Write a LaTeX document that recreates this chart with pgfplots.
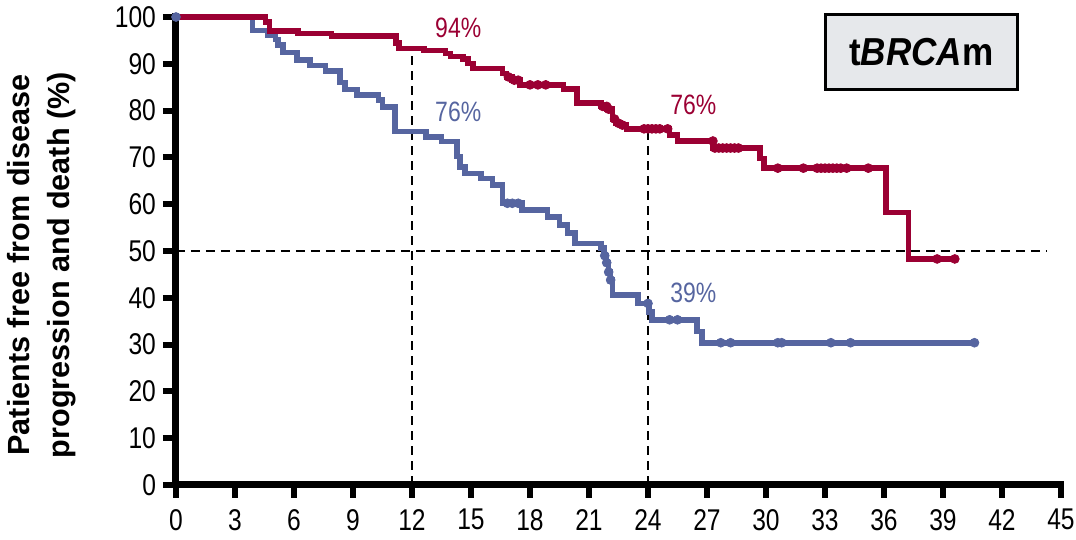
\documentclass[border=0pt]{standalone}
\usepackage{fontspec}
\setmainfont{Liberation Sans}
\newfontfamily\narrowsans{Liberation Sans}[FakeStretch=0.82]
\newfontfamily\boxsans{Liberation Sans}[FakeStretch=0.9]
\usepackage{pgfplots}
\pgfplotsset{compat=1.18}

\definecolor{olared}{RGB}{155,0,51}
\definecolor{pboblue}{RGB}{86,101,160}
\definecolor{boxgray}{RGB}{230,232,235}

\begin{document}
\begin{tikzpicture}
\begin{axis}[
  scale only axis, width=442.5pt, height=234pt,
  xmin=0, xmax=45, ymin=0, ymax=100,
  axis lines=left,
  axis line style={draw=none},
  xtick={0,3,...,45}, ytick={0,10,...,100},
  tick align=outside,
  major tick length=6.5pt,
  tick style={line width=3pt, black},
  major tick style={line width=3pt, black},
  /pgf/number format/assume math mode=true,
  tick label style={font=\narrowsans\fontsize{15}{18}\selectfont},
  xticklabel style={yshift=-2pt},
  ylabel={Patients free from disease\\progression and death (\%)},
  ylabel style={font=\bfseries\fontsize{15.3}{20}\selectfont, align=center,
                at={(axis description cs:-0.152,0.47)}, anchor=center},
  clip=false,
]
\coordinate (O) at (axis cs:0,0);
% axis frame: left and bottom only
\draw[line width=3.5pt, line cap=rect] (axis cs:0,100) -- (axis cs:0,0) -- (axis cs:45,0);

% reference lines: median and landmark times
\addplot[black, line width=1.4pt, dash pattern=on 4.5pt off 3pt] coordinates {(0,50) (44.3,50)};
\addplot[black, line width=1.4pt, dash pattern=on 4.5pt off 3pt] coordinates {(12,0) (12,93.3)};
\addplot[black, line width=1.4pt, dash pattern=on 4.5pt off 3pt] coordinates {(24,0) (24,76.1)};

% placebo arm
\addplot[pboblue, line width=2.8pt, const plot] coordinates {
(0,100) (3.9,97.1) (4.65,96.2) (5.05,95.2) (5.2,94.0) (5.45,92.4) (6.15,90.8)
(6.8,89.6) (7.6,88.5) (8.35,86.0) (8.6,84.5) (9.2,83.3) (10.3,82.3) (10.5,80.8)
(11.15,75.5) (12.7,74.4) (13.5,73.4) (14.3,70.2) (14.45,68.0) (14.7,66.6)
(15.5,65.5) (16.1,64.1) (16.6,60.2) (17.6,58.8) (18.9,57.3) (19.5,55.6)
(19.9,53.8) (20.3,51.6) (21.6,50.6) (21.75,49.0) (21.85,47.5) (22.0,45.5)
(22.1,43.8) (22.2,40.6) (23.5,38.8) (24.05,37.0) (24.2,35.3) (26.5,32.8)
(26.75,30.4) (40.6,30.4)};

% olaparib arm
\addplot[olared, line width=2.8pt, const plot] coordinates {
(0,100) (4.55,98.9) (4.75,97.0) (6.2,96.5) (7.9,95.9) (11.2,94.4) (11.35,93.3)
(12.6,92.8) (13.7,92.2) (13.95,91.6) (14.6,91.0) (14.85,90.1) (15.1,89.0)
(16.6,87.9) (16.8,87.2) (17.1,86.5) (17.5,85.5) (19.7,84.6) (20.4,81.6)
(21.6,80.9) (21.9,80.3) (22.2,78.2) (22.35,77.3) (22.6,76.9) (22.9,76.1)
(25.1,74.8) (25.5,73.5) (27.3,72.0) (29.7,69.8) (29.9,67.7) (36.1,58.2)
(37.25,48.3) (39.6,48.3)};

% censored observations
\addplot[only marks, mark=*, mark size=2.2pt, olared] coordinates {
(16.9,87.2) (17.2,86.5) (17.4,86.5) (18.0,85.5) (18.4,85.5) (18.8,85.5)
(21.7,80.9) (21.9,80.9) (22.0,80.3) (22.3,78.2) (22.5,77.3) (22.7,76.9)
(23.8,76.1) (24.0,76.1) (24.2,76.1) (24.4,76.1) (24.6,76.1) (25.0,76.1)
(27.3,73.5) (27.4,72.0) (27.6,72.0) (27.8,72.0) (28.0,72.0) (28.2,72.0)
(28.4,72.0) (28.6,72.0) (30.6,67.7) (31.9,67.7) (32.6,67.7) (32.8,67.7)
(33.0,67.7) (33.2,67.7) (33.4,67.7) (33.6,67.7) (33.8,67.7) (34.1,67.7)
(35.2,67.7) (38.7,48.3) (39.6,48.3)};
\addplot[only marks, mark=*, mark size=2.2pt, pboblue] coordinates {
(0,100) (16.85,60.2) (17.1,60.2) (17.4,60.2) (21.8,49.0) (21.9,47.5)
(22.0,45.5) (22.1,43.8) (24.0,38.8) (25.1,35.3) (25.5,35.3) (27.7,30.4)
(28.2,30.4) (30.6,30.4) (30.8,30.4) (33.3,30.4) (34.3,30.4) (40.6,30.4)};

% landmark estimates
\node[olared, font=\narrowsans\fontsize{14}{16}\selectfont] at (axis cs:14.35,97.6) {94\%};
\node[pboblue, font=\narrowsans\fontsize{14}{16}\selectfont] at (axis cs:14.35,79.7) {76\%};
\node[olared, font=\narrowsans\fontsize{14}{16}\selectfont] at (axis cs:26.3,81.2) {76\%};
\node[pboblue, font=\narrowsans\fontsize{14}{16}\selectfont] at (axis cs:26.3,41.0) {39\%};

\node[draw=black, line width=1.5pt, fill=boxgray, minimum width=96pt,
      minimum height=37.5pt, inner sep=0pt,
      font=\boxsans\bfseries\fontsize{19.5}{22}\selectfont]
      at (axis cs:37.9,92.6) {t\textit{BRCA}m};
\end{axis}
\pgfresetboundingbox
\path[use as bounding box] (O) ++(-88pt,-27.5pt) rectangle ++(538pt,270pt);
\end{tikzpicture}
\end{document}
